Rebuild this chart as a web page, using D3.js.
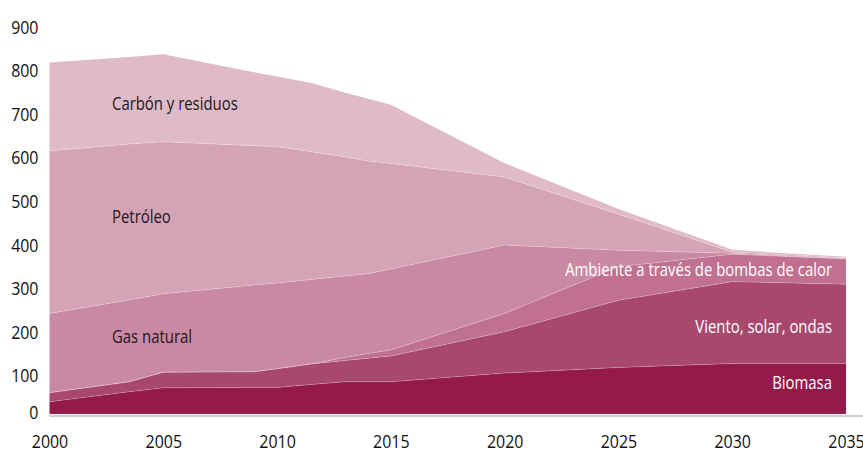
<!DOCTYPE html>
<html>
<head>
<meta charset="utf-8">
<script src="https://cdn.jsdelivr.net/npm/d3@7"></script>
<style>
  html, body { margin: 0; padding: 0; background: #fff; }
  svg { display: block; }
  text { font-family: "Open Sans", "Noto Sans", sans-serif; }
</style>
</head>
<body>
<svg id="chart" width="863" height="450"></svg>
<script>
const years      = [2000, 2003.5, 2005, 2009, 2010, 2011.5, 2013, 2014, 2015, 2020, 2025, 2030, 2035];
const biomasa    = [28, 51, 60, 61, 61, 68, 74, 74, 74, 94, 107, 116, 116];
const viento     = [21, 23, 36, 36, 43, 47, 49, 54, 59, 95, 154, 188, 182];
const ambiente   = [0, 0, 0, 0, 0, 0, 7, 11, 14, 42, 77, 63, 58];
const gasNatural = [182, 188, 180, 199, 197, 194, 187, 183, 186, 157, 38, 2, 1];
const petroleo   = [373, 358, 349, 320, 313, 293, 273, 259, 242, 156, 83, 3, 2];
const carbon     = [203, 200, 201, 169, 161, 158, 148, 143, 135, 32, 12, 5, 2];

const xTicks = [2000, 2005, 2010, 2015, 2020, 2025, 2030, 2035];
const yTicks = [0, 100, 200, 300, 400, 500, 600, 700, 800, 900];

const seriesNames = ["Biomasa", "Viento, solar, ondas", "Ambiente a través de bombas de calor",
                     "Gas natural", "Petróleo", "Carbón y residuos"];
const seriesValues = [biomasa, viento, ambiente, gasNatural, petroleo, carbon];
const colors = ["#941b48", "#a8486c", "#bf718f", "#ca89a2", "#d5a3b6", "#dfbac8"];

const table = years.map((yr, i) => {
  const row = { year: yr };
  seriesNames.forEach((n, k) => row[n] = seriesValues[k][i]);
  return row;
});

const FONT = '"Open Sans", "Noto Sans", sans-serif';
const FS = 18;

const svg = d3.select("#chart");
const x = d3.scaleLinear().domain([2000, 2035]).range([49.5, 846]);
const y = d3.scaleLinear().domain([0, 900]).range([414, 22.1]);

// measure font to get condensed look
function measure(str) {
  const t = svg.append("text").attr("font-size", FS).style("font-family", FONT).text(str);
  const w = t.node().getComputedTextLength();
  t.remove();
  return w;
}
const kLabel = 267 / measure("Ambiente a través de bombas de calor");
const kTick = 36.5 / measure("2000");

const layers = d3.stack().keys(seriesNames)(table);

const area = d3.area()
  .x(d => x(d.data.year))
  .y0(d => y(d[0]))
  .y1(d => y(d[1]));

svg.append("g").selectAll("path")
  .data(layers)
  .join("path")
  .attr("d", area)
  .attr("fill", (d, i) => colors[i]);

// faint boundaries between layers
const topLine = d3.line().x(d => x(d.data.year)).y(d => y(d[1]));
svg.append("g").selectAll("path")
  .data(layers.slice(0, layers.length - 1))
  .join("path")
  .attr("d", topLine)
  .attr("fill", "none")
  .attr("stroke", "#fff")
  .attr("stroke-opacity", 0.3)
  .attr("stroke-width", 0.7);

// baseline
svg.append("line")
  .attr("x1", 49).attr("x2", 863)
  .attr("y1", 416).attr("y2", 416)
  .attr("stroke", "#bdbdbd").attr("stroke-width", 1.5);

// x axis
const xAxis = svg.append("g")
  .attr("transform", "translate(0,416)")
  .call(d3.axisBottom(x).tickValues(xTicks).tickFormat(d3.format("d")).tickSize(0).tickPadding(0));
xAxis.select(".domain").remove();
xAxis.selectAll("text")
  .attr("font-size", FS).attr("fill", "#111")
  .attr("y", 0).attr("dy", 0)
  .attr("transform", `translate(0,32.2) scale(${kTick},1)`)
  .style("font-family", FONT);

// y axis
const yAxis = svg.append("g")
  .attr("transform", "translate(38.5,0)")
  .call(d3.axisLeft(y).tickValues(yTicks).tickFormat(d3.format("d")).tickSize(0).tickPadding(0));
yAxis.select(".domain").remove();
yAxis.selectAll("text")
  .attr("font-size", FS).attr("fill", "#111")
  .attr("x", 0).attr("y", 0).attr("dy", 0)
  .attr("transform", d => `translate(0,${d === 0 ? 4.3 : 11.2}) scale(${kTick},1)`)
  .style("font-family", FONT);

// series labels
const labels = [
  { name: "Carbón y residuos", x: 112, y: 103.3, anchor: "start", color: "#1a1a1a" },
  { name: "Petróleo", x: 112, y: 216.7, anchor: "start", color: "#1a1a1a" },
  { name: "Gas natural", x: 112, y: 336.7, anchor: "start", color: "#1a1a1a" },
  { name: "Ambiente a través de bombas de calor", x: 832, y: 270, anchor: "end", color: "#fff" },
  { name: "Viento, solar, ondas", x: 832, y: 326.7, anchor: "end", color: "#fff" },
  { name: "Biomasa", x: 832, y: 382.7, anchor: "end", color: "#fff" }
];
svg.append("g").selectAll("text")
  .data(labels)
  .join("text")
  .attr("transform", d => `translate(${d.x},${d.y + 6.4}) scale(${kLabel},1)`)
  .attr("text-anchor", d => d.anchor)
  .attr("fill", d => d.color)
  .attr("font-size", FS)
  .style("font-family", FONT)
  .text(d => d.name);
</script>
</body>
</html>
